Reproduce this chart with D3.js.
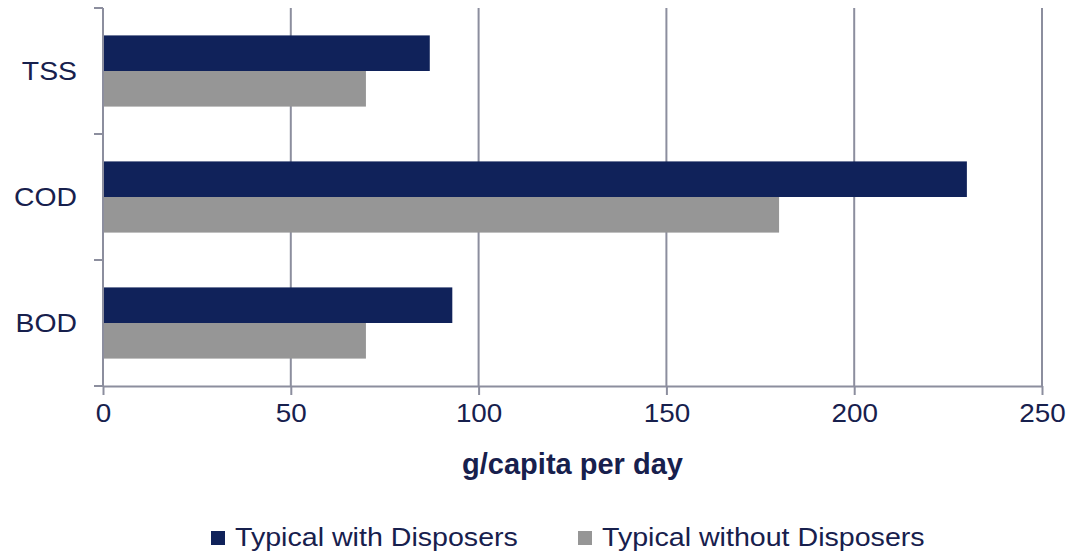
<!DOCTYPE html>
<html>
<head>
<meta charset="utf-8">
<script src="https://cdn.jsdelivr.net/npm/d3@7"></script>
<style>
  body { margin: 0; background: #fff; }
  svg text { font-family: "Liberation Sans", Arial, sans-serif; fill: #17204d; }
</style>
</head>
<body>
<svg id="chart"></svg>
<script>
 var width = 1073;
 var height = 556;

 const categories = ["TSS", "COD", "BOD"];
 const seriesNames = ["Typical with Disposers", "Typical without Disposers"];
 const withDisposers = [87, 230, 93];
 const withoutDisposers = [70, 180, 70];
 const xTicks = [0, 50, 100, 150, 200, 250];

 const colors = ["#10225a", "#969696"];
 const gridColor = "#8c8e9e";

 const margin = { left: 103, right: 31, top: 8, bottom: 170 };

 const svg = d3.select("#chart")
   .attr("width", width)
   .attr("height", height);

 const x = d3.scaleLinear()
   .domain([0, 250])
   .range([margin.left, width - margin.right]);

 const y = d3.scaleBand()
   .domain(categories)
   .range([margin.top, height - margin.bottom])
   .paddingInner(0.435)
   .paddingOuter(0.2175);

 const ySub = d3.scaleBand()
   .domain(seriesNames)
   .range([0, y.bandwidth()]);

 // gridlines
 svg.append("g")
   .selectAll("line")
   .data(xTicks.slice(1))
   .enter()
   .append("line")
   .attr("x1", d => x(d))
   .attr("x2", d => x(d))
   .attr("y1", margin.top)
   .attr("y2", height - margin.bottom)
   .attr("stroke", gridColor)
   .attr("stroke-width", 2);

 const rows = categories.map((c, i) => ({ cat: c, vals: [withDisposers[i], withoutDisposers[i]] }));

 const groups = svg.append("g")
   .selectAll("g")
   .data(rows)
   .enter()
   .append("g")
   .attr("transform", d => `translate(0, ${y(d.cat)})`);

 groups.selectAll("rect")
   .data(d => d.vals.map((v, j) => ({ v: v, s: seriesNames[j], j: j })))
   .enter()
   .append("rect")
   .attr("x", x(0))
   .attr("y", d => ySub(d.s))
   .attr("width", d => x(d.v) - x(0))
   .attr("height", ySub.bandwidth())
   .attr("fill", d => colors[d.j]);

 // x axis
 const xAxis = svg.append("g")
   .attr("transform", `translate(0, ${height - margin.bottom})`)
   .call(d3.axisBottom(x).tickValues(xTicks).tickSize(9).tickPadding(8).tickSizeOuter(0));
 xAxis.select(".domain").attr("stroke", gridColor).attr("stroke-width", 2);
 xAxis.selectAll(".tick line").attr("stroke", gridColor).attr("stroke-width", 2);
 xAxis.selectAll("text")
   .style("font-size", "26.5px")
   .attr("fill", "#17204d")
   .attr("transform", "scale(1.05,1)");

 // y axis with ticks between categories
 const yAxisG = svg.append("g");
 yAxisG.append("line")
   .attr("x1", x(0)).attr("x2", x(0))
   .attr("y1", margin.top).attr("y2", height - margin.bottom)
   .attr("stroke", gridColor).attr("stroke-width", 2);
 const boundaries = d3.range(categories.length + 1).map(i => margin.top + i * (height - margin.bottom - margin.top) / categories.length);
 yAxisG.selectAll(".ytick")
   .data(boundaries)
   .enter()
   .append("line")
   .attr("x1", x(0) - 9).attr("x2", x(0))
   .attr("y1", d => d).attr("y2", d => d)
   .attr("stroke", gridColor).attr("stroke-width", 2);
 yAxisG.selectAll("text")
   .data(categories)
   .enter()
   .append("text")
   .attr("transform", d => `translate(77, ${y(d) + y.bandwidth() / 2}) scale(1.07,1)`)
   .attr("dy", "0.35em")
   .attr("text-anchor", "end")
   .style("font-size", "26.5px")
   .text(d => d);

 // axis title
 svg.append("text")
   .attr("x", (x(0) + x(250)) / 2)
   .attr("y", 474)
   .attr("text-anchor", "middle")
   .style("font-size", "29px")
   .style("font-weight", "bold")
   .text("g/capita per day");

 // legend
 const legendX = [211, 578];
 const legend = svg.append("g")
   .selectAll("g")
   .data(seriesNames)
   .enter()
   .append("g")
   .attr("transform", (d, i) => `translate(${legendX[i]}, 531)`);
 legend.append("rect")
   .attr("width", 14)
   .attr("height", 14)
   .attr("fill", (d, i) => colors[i]);
 legend.append("text")
   .attr("transform", "translate(24, 15) scale(1.1,1)")
   .style("font-size", "26px")
   .text(d => d);
</script>
</body>
</html>
